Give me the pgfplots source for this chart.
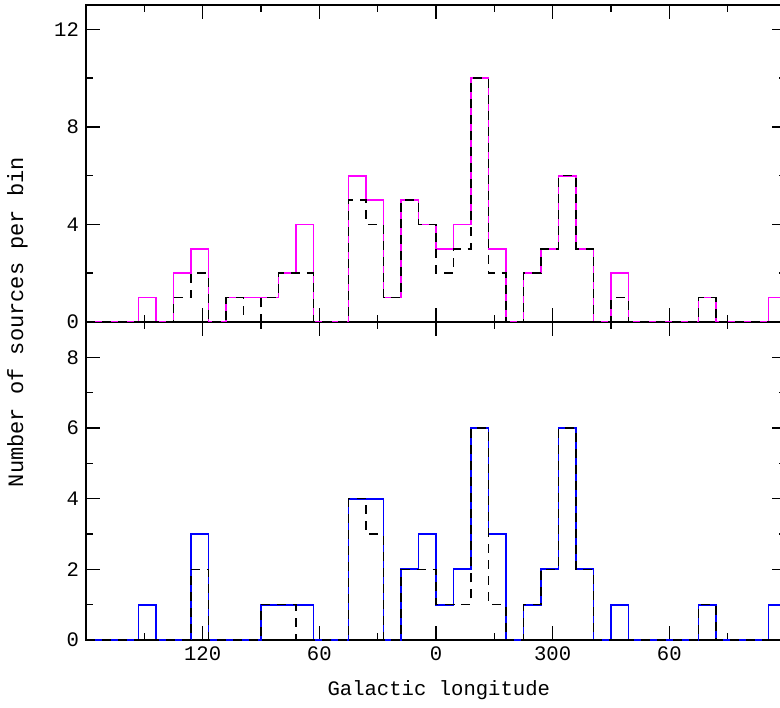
\documentclass[border=0pt]{standalone}
\usepackage{pgfplots}
\pgfplotsset{compat=1.18}
\usepackage{fontspec}
\setmainfont{Liberation Mono}

\definecolor{pgmag}{RGB}{255,0,255}
\definecolor{pgblue}{RGB}{0,0,255}

% bin left edges (9 deg bins); x runs as minus longitude, wrapped
\pgfplotstableread{
lon mag blk
-180 0 0
-171 0 0
-162 0 0
-153 1 0
-144 0 0
-135 2 1
-126 3 2
-117 0 0
-108 1 1
-99 1 0
-90 1 1
-81 2 2
-72 4 2
-63 0 0
-54 0 0
-45 6 5
-36 5 4
-27 1 1
-18 5 5
-9 4 4
0 3 2
9 4 3
18 10 10
27 3 2
36 0 0
45 2 2
54 3 3
63 6 6
72 3 3
81 0 0
90 2 1
99 0 0
108 0 0
117 0 0
126 0 0
135 1 1
144 0 0
153 0 0
162 0 0
171 1 0
180 1 0
}\toptab

\pgfplotstableread{
lon blu blk
-180 0 0
-171 0 0
-162 0 0
-153 1 0
-144 0 0
-135 0 0
-126 3 2
-117 0 0
-108 0 0
-99 0 0
-90 1 1
-81 1 1
-72 1 0
-63 0 0
-54 0 0
-45 4 4
-36 4 3
-27 0 0
-18 2 2
-9 3 2
0 1 1
9 2 1
18 6 6
27 3 1
36 0 0
45 1 1
54 2 2
63 6 6
72 2 2
81 0 0
90 1 0
99 0 0
108 0 0
117 0 0
126 0 0
135 1 1
144 0 0
153 0 0
162 0 0
171 1 0
180 1 0
}\bottab

\pgfplotsset{
  panel/.style={
    scale only axis,
    width=350pt,
    xmin=-180, xmax=180,
    ymin=0,
    xtick={-120,-60,0,60,120},
    minor xtick={-150,-90,-30,30,90,150},
    axis line style={line width=1pt},
    tick style={line width=0.8pt, black},
    major tick length=7pt,
    minor tick length=3.5pt,
    /pgf/number format/assume math mode=true,
    tick label style={font=\fontsize{10.3}{12}\selectfont},
    label style={font=\fontsize{10.3}{12}\selectfont},
  },
  hist/.style={const plot, no marks, line width=0.85pt},
  dsh/.style={const plot, no marks, line width=0.8pt, black, dash pattern=on 4.5pt off 3.5pt},
}

\begin{document}
\begin{tikzpicture}
\begin{axis}[panel,
  name=bot,
  at={(0,0)}, anchor=south west,
  height=159pt,
  ymax=9,
  ytick={0,2,4,6,8},
  minor ytick={1,3,5,7},
  xticklabels={120,60,0,300,60},
  xlabel={Galactic longitude},
  xlabel style={at={(axis description cs:0.504,-0.157)}, anchor=center},
  ylabel={Number of sources per bin},
  ylabel style={at={(axis description cs:-0.098,1)}, anchor=center,
    font=\fontsize{11}{12}\selectfont},
]
\addplot[hist, pgblue] table[x=lon, y=blu] {\bottab};
\addplot[dsh] table[x=lon, y=blk] {\bottab};
\end{axis}

\begin{axis}[panel,
  name=top,
  at={(0,159pt)}, anchor=south west,
  height=158.5pt,
  ymax=13,
  ytick={0,4,8,12},
  minor ytick={2,6,10},
  xticklabels={},
]
\addplot[hist, pgmag] table[x=lon, y=mag] {\toptab};
\addplot[dsh] table[x=lon, y=blk] {\toptab};
\end{axis}

\pgfresetboundingbox
\useasboundingbox (-43pt,-33.5pt) rectangle (347pt,320pt);
\end{tikzpicture}
\end{document}
